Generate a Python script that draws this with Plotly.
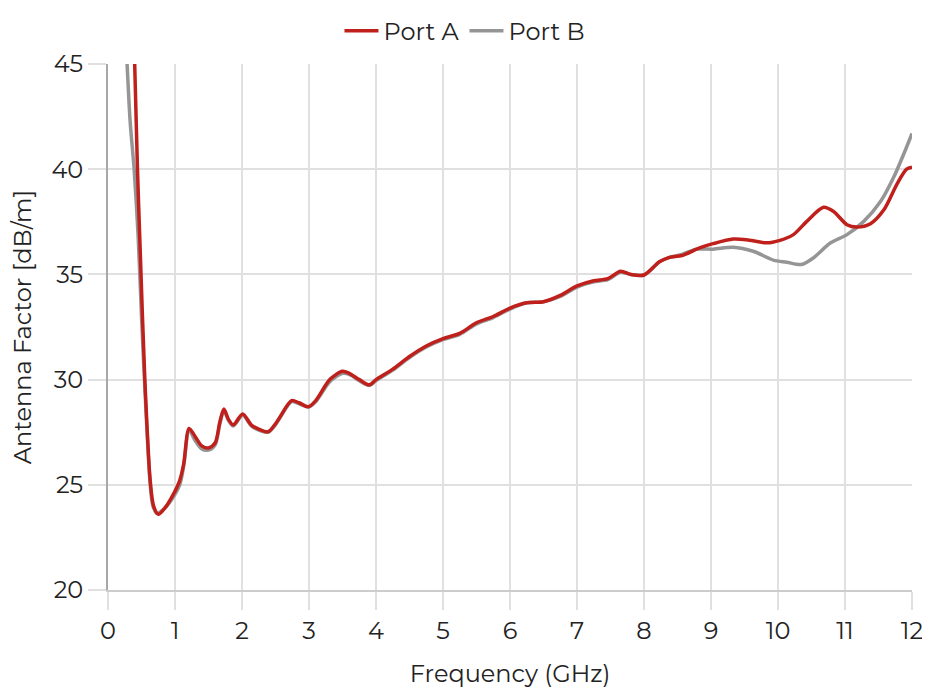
import plotly.graph_objects as go

# Port A (red)
freq_a = [0.39, 0.44, 0.48, 0.55, 0.63, 0.68, 0.75, 0.85, 0.95, 1.07, 1.13, 1.21, 1.30, 1.40, 1.50,
          1.60, 1.67, 1.73, 1.80, 1.87, 2.01, 2.14, 2.25, 2.39, 2.50, 2.57, 2.74, 2.85, 2.99, 3.10,
          3.31, 3.50, 3.60, 3.75, 3.90, 4.00, 4.25, 4.50, 4.75, 5.00, 5.25, 5.50, 5.75, 6.00, 6.25,
          6.50, 6.75, 7.00, 7.25, 7.46, 7.65, 7.80, 8.00, 8.23, 8.37, 8.57, 8.83, 9.03, 9.33, 9.53,
          9.83, 10.03, 10.23, 10.43, 10.68, 10.83, 11.03, 11.18, 11.38, 11.58, 11.78, 11.92, 12.00]
af_a = [46.0, 40.0, 36.2, 30.0, 25.2, 24.0, 23.6, 23.9, 24.4, 25.2, 26.0, 27.68, 27.3, 26.85, 26.75,
        27.0, 28.0, 28.6, 28.1, 27.85, 28.37, 27.84, 27.65, 27.52, 27.9, 28.24, 29.0, 28.9, 28.71, 29.0,
        30.0, 30.4, 30.3, 30.0, 29.75, 30.0, 30.5, 31.1, 31.6, 31.95, 32.2, 32.7, 33.0, 33.4, 33.65,
        33.7, 34.0, 34.45, 34.7, 34.8, 35.15, 35.0, 34.97, 35.6, 35.8, 35.9, 36.26, 36.46, 36.68, 36.65,
        36.5, 36.62, 36.89, 37.52, 38.19, 37.99, 37.36, 37.25, 37.41, 38.07, 39.32, 40.0, 40.1]

# Port B (gray)
freq_b = [0.27, 0.33, 0.39, 0.45, 0.50, 0.55, 0.63, 0.67, 0.73, 0.85, 0.95, 1.07, 1.13, 1.21, 1.30,
          1.40, 1.50, 1.60, 1.67, 1.73, 1.80, 1.87, 2.01, 2.14, 2.25, 2.39, 2.50, 2.57, 2.74, 2.85,
          2.99, 3.10, 3.31, 3.50, 3.60, 3.75, 3.90, 4.00, 4.25, 4.50, 4.75, 5.00, 5.25, 5.50, 5.75,
          6.00, 6.25, 6.50, 6.75, 7.00, 7.25, 7.46, 7.65, 7.80, 8.00, 8.23, 8.37, 8.57, 8.78, 9.03,
          9.33, 9.63, 9.93, 10.13, 10.35, 10.53, 10.78, 11.03, 11.28, 11.53, 11.73, 11.90, 12.00]
af_b = [46.0, 42.3, 40.0, 36.8, 33.0, 29.6, 25.0, 24.0, 23.65, 23.9, 24.3, 25.0, 25.9, 27.6, 27.1,
        26.7, 26.65, 26.9, 27.9, 28.5, 28.05, 27.8, 28.3, 27.8, 27.6, 27.5, 27.85, 28.2, 28.95, 28.85,
        28.7, 28.95, 29.9, 30.3, 30.25, 29.95, 29.72, 29.95, 30.45, 31.05, 31.55, 31.9, 32.15, 32.65, 32.95,
        33.35, 33.65, 33.7, 33.95, 34.4, 34.65, 34.75, 35.1, 35.0, 34.97, 35.6, 35.8, 35.95, 36.2, 36.2,
        36.29, 36.1, 35.68, 35.58, 35.47, 35.79, 36.49, 36.89, 37.52, 38.46, 39.64, 40.9, 41.7]

x_ticks = list(range(0, 13))
y_ticks = [20, 25, 30, 35, 40, 45]

FONT = "Montserrat, Lato, 'Open Sans', sans-serif"
FS = 24

fig = go.Figure()
fig.add_trace(go.Scatter(x=freq_b, y=af_b, mode="lines", name="Port B",
                         line=dict(color="#959595", width=3.5, shape="spline", smoothing=0.8)))
fig.add_trace(go.Scatter(x=freq_a, y=af_a, mode="lines", name="Port A",
                         line=dict(color="#c0201c", width=3.5, shape="spline", smoothing=0.8)))

fig.update_layout(
    width=914, height=680,
    margin=dict(l=100, r=10, t=56, b=98),
    paper_bgcolor="white", plot_bgcolor="white",
    font=dict(family=FONT, size=FS, color="#222"),
    legend=dict(orientation="h", x=0.444, xanchor="center",
                yref="container", y=0.966, yanchor="middle",
                traceorder="reversed", font=dict(size=FS), itemwidth=34),
    showlegend=True,
)
fig.update_xaxes(
    range=[0, 12], tickvals=x_ticks, showgrid=True, gridcolor="#e0e0e0", gridwidth=1.5,
    ticks="outside", ticklen=18, tickcolor="#e0e0e0", tickwidth=1.5,
    showline=True, linecolor="#cccccc", linewidth=1.5, zeroline=False, automargin=False,
    ticklabeloverflow="allow",
    title=dict(text="Frequency (GHz)", standoff=24, font=dict(size=FS)),
    tickfont=dict(size=FS),
)
fig.update_yaxes(
    range=[20, 45], tickvals=y_ticks, showgrid=True, gridcolor="#e0e0e0", gridwidth=1.5,
    ticks="outside", ticklen=18, tickcolor="#e0e0e0", tickwidth=1.5,
    showline=True, linecolor="#a8a8a8", linewidth=2, zeroline=False, automargin=False,
    ticklabeloverflow="allow",
    title=dict(text="Antenna Factor [dB/m]", standoff=26, font=dict(size=FS)),
    tickfont=dict(size=FS),
)

fig.write_html("out.html")
